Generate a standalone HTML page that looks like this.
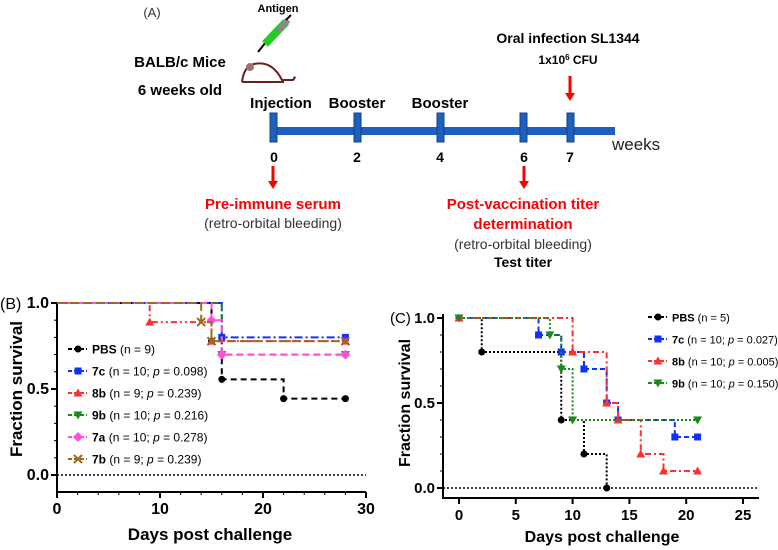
<!DOCTYPE html>
<html><head><meta charset="utf-8"><style>
body{margin:0;background:#fff}
svg{display:block;font-family:"Liberation Sans",Arial,sans-serif}
.cal{font-family:"Liberation Sans",Arial,sans-serif}
</style></head><body>
<svg id="fig" width="778" height="550" viewBox="0 0 778 550">
<g class="cal" font-weight="bold" font-size="14" text-anchor="middle">
<text x="152" y="17" font-weight="normal" font-size="13" fill="#333">(A)</text>
<text x="278" y="12" font-size="11">Antigen</text>
<g>
<line x1="258" y1="52" x2="266" y2="42" stroke="#000" stroke-width="2"/>
<line x1="265" y1="44" x2="286" y2="22" stroke="#2c2" stroke-width="8"/>
<line x1="278" y1="31" x2="288" y2="20" stroke="#888" stroke-width="6"/>
<line x1="286" y1="20" x2="291" y2="15" stroke="#000" stroke-width="2"/>
</g>
<path d="M242 82 Q244 66 254 64 Q272 60 282 80 L293 80 Q296 76 294 78 M242 82 L284 82" fill="none" stroke="#6b1f1f" stroke-width="2"/>
<circle cx="250" cy="67" r="4" fill="#a07070"/>
<text x="180" y="67" font-size="15">BALB/c Mice</text>
<text x="180" y="95" font-size="15">6 weeks old</text>
<rect x="275" y="127" width="340" height="8" fill="#1f5fc0"/>
<g fill="#1f5fc0" stroke="#13407f" stroke-width="1">
<rect x="270" y="113" width="7" height="29"/><rect x="354" y="113" width="7" height="29"/><rect x="437" y="113" width="7" height="29"/><rect x="520" y="113" width="7" height="29"/><rect x="567" y="113" width="7" height="29"/>
</g>
<text x="281" y="108" font-size="15">Injection</text>
<text x="357" y="108" font-size="15">Booster</text>
<text x="440" y="108" font-size="15">Booster</text>
<text x="274" y="162" font-size="14">0</text><text x="357" y="162" font-size="14">2</text><text x="440" y="162" font-size="14">4</text><text x="524" y="162" font-size="14">6</text><text x="570" y="162" font-size="14">7</text>
<text x="612" y="150" font-weight="normal" font-size="17" text-anchor="start" fill="#222">weeks</text>
<text x="568" y="43" font-size="14">Oral infection SL1344</text>
<text x="568" y="64" font-size="12" font-weight="bold">1x10<tspan dy="-4" font-size="8">6</tspan><tspan dy="4"> CFU</tspan></text>
<g fill="red" stroke="red" stroke-width="3">
<line x1="570" y1="76" x2="570" y2="94"/><path d="M565 93 L575 93 L570 101Z" stroke="none"/>
<line x1="273" y1="166" x2="273" y2="182"/><path d="M268 181 L278 181 L273 189Z" stroke="none"/>
<line x1="524" y1="166" x2="524" y2="182"/><path d="M519 181 L529 181 L524 189Z" stroke="none"/>
</g>
<text x="273" y="209" fill="red" font-size="15">Pre-immune serum</text>
<text x="273" y="228" font-weight="normal" font-size="14" fill="#333">(retro-orbital bleeding)</text>
<text x="523" y="209" fill="red" font-size="15">Post-vaccination titer</text>
<text x="523" y="229" fill="red" font-size="15">determination</text>
<text x="523" y="249" font-weight="normal" font-size="14" fill="#333">(retro-orbital bleeding)</text>
<text x="523" y="267" font-size="14">Test titer</text>
</g>
<g id="pb"></g>
<g id="pc"></g>
</svg>
<script>
// Panel B data
const bNames=["PBS","7c","8b","9b","7a","7b"];
const bLabels=[" (n = 9)"," (n = 10; p = 0.098)"," (n = 9; p = 0.239)"," (n = 10; p = 0.216)"," (n = 10; p = 0.278)"," (n = 9; p = 0.239)"];
const bTimes=[[0,15,16,22,28],[0,16,28],[0,9,15,28],[0,16,28],[0,15,16,28],[0,14,15,28]];
const bSurv=[[1,0.778,0.556,0.444,0.444],[1,0.8,0.8],[1,0.889,0.778,0.778],[1,0.7,0.7],[1,0.9,0.7,0.7],[1,0.889,0.778,0.778]];
const bXTicks=[0,10,20,30];
const bYTicks=[0,0.5,1];
// Panel C data
const cNames=["PBS","7c","8b","9b"];
const cLabels=[" (n = 5)"," (n = 10; p = 0.027)"," (n = 10; p = 0.005)"," (n = 10; p = 0.150)"];
const cTimes=[[0,2,9,11,13],[0,7,9,11,13,14,19,21],[0,10,13,14,16,18,21],[0,8,9,10,21]];
const cSurv=[[1,0.8,0.4,0.2,0],[1,0.9,0.8,0.7,0.5,0.4,0.3,0.3],[1,0.8,0.5,0.4,0.2,0.1,0.1],[1,0.9,0.7,0.4,0.4]];
const cXTicks=[0,5,10,15,20,25];
const cYTicks=[0,0.5,1];

const NS="http://www.w3.org/2000/svg";
function mk(p,tag,at){const e=document.createElementNS(NS,tag);for(const k in at)e.setAttribute(k,at[k]);p.appendChild(e);return e;}
function marker(g,type,x,y,c){let e;
 if(type==="circle")e=mk(g,"circle",{cx:x,cy:y,r:3.5,fill:c});
 else if(type==="square")e=mk(g,"rect",{x:x-3.5,y:y-3.5,width:7,height:7,fill:c});
 else if(type==="up")e=mk(g,"path",{d:`M${x} ${y-4.5}L${x+4.5} ${y+3.5}L${x-4.5} ${y+3.5}Z`,fill:c});
 else if(type==="down")e=mk(g,"path",{d:`M${x} ${y+4.5}L${x+4.5} ${y-3.5}L${x-4.5} ${y-3.5}Z`,fill:c});
 else if(type==="diamond")e=mk(g,"path",{d:`M${x} ${y-5}L${x+5} ${y}L${x} ${y+5}L${x-5} ${y}Z`,fill:c});
 else e=mk(g,"path",{d:`M${x-4} ${y-4}L${x+4} ${y+4}M${x+4} ${y-4}L${x-4} ${y+4}`,stroke:c,"stroke-width":2});
 
 }
function panel(id,o){
 const g=document.getElementById(id);
 const X=v=>o.x0+(v-o.xmin)/(o.xmax-o.xmin)*(o.x1-o.x0);
 const Y=v=>o.y0+v*(o.y1-o.y0);
 const ax=mk(g,"path",{d:`M${o.axL} ${Y(1)-o.topPad}V${o.axB}H${o.axR}`,fill:"none",stroke:"#000","stroke-width":2});
 
 
 const zl=mk(g,"line",{x1:o.axL,x2:o.axR,y1:Y(0),y2:Y(0),stroke:"#000","stroke-width":1.5,"stroke-dasharray":"2,2"});
 
 
 for(const t of o.yt){mk(g,"line",{x1:o.axL-6,x2:o.axL,y1:Y(t),y2:Y(t),stroke:"#000","stroke-width":2});
  const tx=mk(g,"text",{x:o.axL-8,y:Y(t)+5,"text-anchor":"end","font-size":o.fs,"font-weight":"bold"});tx.textContent=t.toFixed(1);
  
  }
 for(let k=0;k<o.yt.length-1;k++){for(let m=1;m<o.ym;m++){const v=o.yt[k]+(o.yt[k+1]-o.yt[k])*m/o.ym;mk(g,"line",{x1:o.axL-3,x2:o.axL,y1:Y(v),y2:Y(v),stroke:"#000","stroke-width":1});}}
 for(const t of o.xt){mk(g,"line",{x1:X(t),x2:X(t),y1:o.axB,y2:o.axB+6,stroke:"#000","stroke-width":2});
  const tx=mk(g,"text",{x:X(t),y:o.axB+22,"text-anchor":"middle","font-size":o.fs,"font-weight":"bold"});tx.textContent=t;
  
  }
 for(let k=0;k<o.xt.length-1;k++){for(let m=1;m<o.xm;m++){const v=o.xt[k]+(o.xt[k+1]-o.xt[k])*m/o.xm;mk(g,"line",{x1:X(v),x2:X(v),y1:o.axB,y2:o.axB+3,stroke:"#000","stroke-width":1});}}
 const xt=mk(g,"text",{x:o.xtX,y:o.xtY,"text-anchor":"middle","font-size":o.tfs,"font-weight":"bold"});xt.textContent="Days post challenge";
 
 
 const yt=mk(g,"text",{x:0,y:0,transform:`translate(${o.ytX},${Y(0.5)}) rotate(-90)`,"text-anchor":"middle","font-size":o.tfs,"font-weight":"bold"});yt.textContent="Fraction survival";
 
 
 const pl=mk(g,"text",{x:o.plX,y:o.plY,"font-size":o.fs});pl.textContent=o.pl;
 
 
 o.names.forEach((nm,i)=>{
  const T=o.times[i],S=o.surv[i],c=o.col[i];
  let d=`M${X(T[0])} ${Y(S[0])}`;
  for(let k=1;k<T.length;k++){d+=`H${X(T[k])}V${Y(S[k])}`;}
  const p=mk(g,"path",{d,fill:"none",stroke:c,"stroke-width":2,"stroke-dasharray":o.dash[i]});
  
  
  for(let k=0;k<T.length;k++){ if(k===0&&!o.startMark)continue; marker(g,o.mk[i],X(T[k]),Y(S[k]),c);}
  const ly=o.legY+i*o.legDy;
  const ll=mk(g,"line",{x1:o.legX,x2:o.legX+19,y1:ly,y2:ly,stroke:c,"stroke-width":2,"stroke-dasharray":"4,2"});
  
  
  marker(g,o.mk[i],o.legX+10,ly,c);
  const lt=mk(g,"text",{x:o.legX+24,y:ly+4.5,"font-size":o.lfs});
  
  
  const b=mk(lt,"tspan",{"font-weight":"bold"});b.textContent=nm;
  const parts=o.labels[i].split("p = ");
  const r=mk(lt,"tspan",{});r.textContent=parts[0];
  if(parts.length>1){const it=mk(lt,"tspan",{"font-style":"italic"});it.textContent="p";const r2=mk(lt,"tspan",{});r2.textContent=" = "+parts[1];}
 });
}
panel("pb",{xmin:0,xmax:30,x0:57,x1:366,y0:475,y1:303,axL:57,axR:366,axB:492,topPad:0,yt:bYTicks,xt:bXTicks,ym:5,xm:5,fs:16,tfs:17,
 xtX:210,xtY:540,ytX:22,plX:0,plY:309,pl:"(B)",names:bNames,labels:bLabels,times:bTimes,surv:bSurv,startMark:false,
 col:["#000","#1030ff","#ff3030","#1a8a1a","#ff50e0","#9a6a20"],mk:["circle","square","up","down","diamond","x"],
 dash:["6,4","8,3,2,3","6,3,2,3,2,3","7,4","7,4","9,4"],legX:68,legY:349,legDy:22,lfs:12});
panel("pc",{xmin:0,xmax:25,x0:459,x1:743,y0:488,y1:318,axL:443,axR:759,axB:498,topPad:4,yt:cYTicks,xt:cXTicks,ym:5,xm:1,fs:15,tfs:16,
 xtX:602,xtY:542,ytX:410,plX:390,plY:323,pl:"(C)",names:cNames,labels:cLabels,times:cTimes,surv:cSurv,startMark:true,
 col:["#000","#1030ff","#ff3030","#1a8a1a"],mk:["circle","square","up","down"],
 dash:["2,2","5,3","6,3,2,3","2,2"],legX:648,legY:317,legDy:22,lfs:11});
</script>
</body></html>
